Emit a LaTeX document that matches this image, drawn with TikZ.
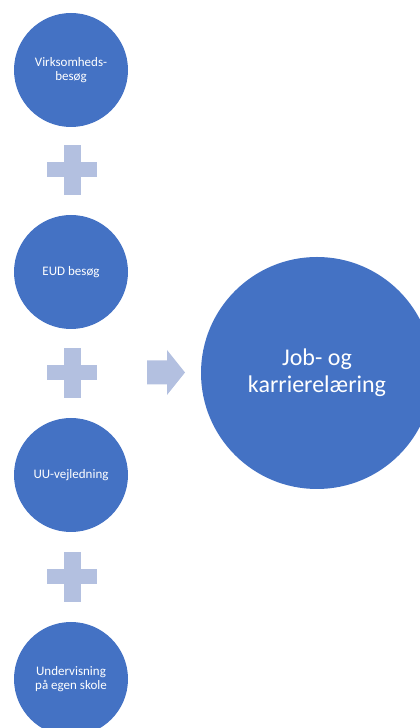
\documentclass[tikz,border=0pt]{standalone}
\usepackage{fontspec}
\setmainfont{Carlito}
\definecolor{bubble}{HTML}{4472C4}
\definecolor{joiner}{HTML}{B3C0E0}

\tikzset{
  activity/.style={circle, fill=bubble, text=white, minimum size=114pt,
    inner sep=0pt, align=center, font=\fontsize{13}{14.5}\selectfont},
  goal/.style={circle, fill=bubble, text=white, minimum size=232pt,
    inner sep=0pt, align=center, font=\fontsize{24}{27}\selectfont}
}

\begin{document}
\begin{tikzpicture}[x=1pt, y=1pt]
  \useasboundingbox (0,0) rectangle (420,728);
  \clip (0,0) rectangle (420,728);

  % Activities down the left column
  \node[activity] (visit)   at (71,658) {Virksomheds-\\besøg};
  \node[activity] (eud)     at (71,456) {EUD besøg};
  \node[activity] (guide)   at (71,253) {UU-vejledning};
  \node[activity] (school)  at (71,49)  {Undervisning\\på egen skole};

  % Outcome
  \node[goal] (career) at (317,355) {Job- og\\karrierelæring};

  % Plus signs between the activities
  \foreach \y in {558, 355, 151} {
    \fill[joiner] (63.5,\y-25) rectangle (80.5,\y+25);
    \fill[joiner] (47,\y-7.5) rectangle (97,\y+7.5);
  }

  % Block arrow towards the outcome
  \fill[joiner] (147,367.5) -- (167,367.5) -- (167,378) -- (185,355.5)
    -- (167,333) -- (167,343.5) -- (147,343.5) -- cycle;
\end{tikzpicture}
\end{document}
